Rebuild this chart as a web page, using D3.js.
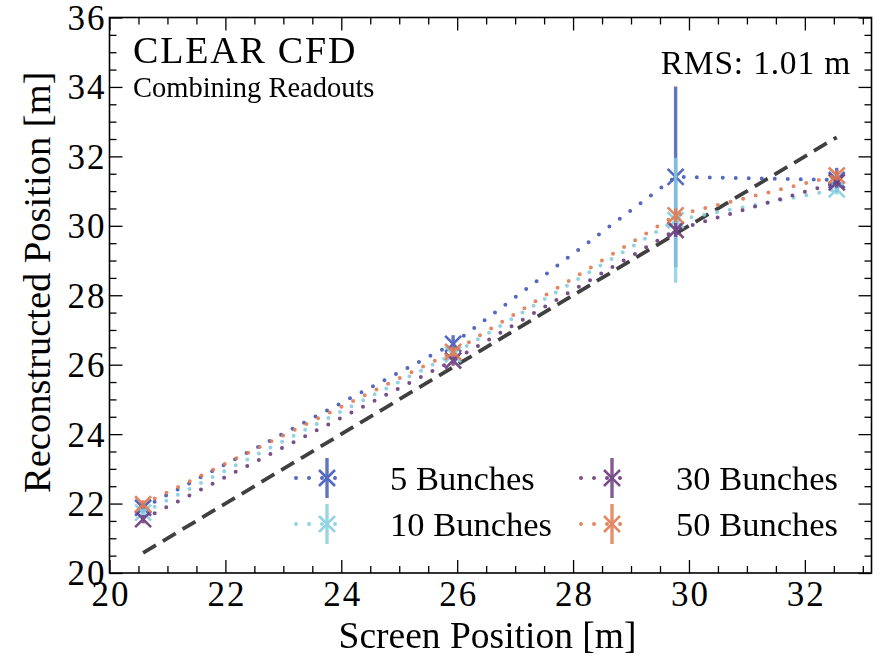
<!DOCTYPE html>
<html><head><meta charset="utf-8">
<script src="https://cdn.jsdelivr.net/npm/d3@7"></script>
<style>
html,body{margin:0;padding:0;background:#fff;}
text{font-family:"Liberation Serif","DejaVu Serif",serif;fill:#000;}
</style></head>
<body>
<svg id="chart" width="882" height="658"></svg>
<script>
// ---------- data ----------
const screenPos = [20.58, 25.93, 29.77, 32.55];
const seriesNames = ["5 Bunches", "10 Bunches", "30 Bunches", "50 Bunches"];
const seriesColors = ["#3f58b8", "#86cfdf", "#6b3a7d", "#e07a52"];
const bunches5  = [21.88, 26.60, 31.41, 31.32];
const err5      = [0.15, 0.25, 2.60, 0.35];
const bunches10 = [21.74, 26.30, 30.16, 31.05];
const err10     = [0.12, 0.15, 1.80, 0.15];
const bunches30 = [21.55, 26.12, 29.88, 31.25];
const err30     = [0.12, 0.15, 0.20, 0.15];
const bunches50 = [21.98, 26.37, 30.30, 31.45];
const err50     = [0.12, 0.15, 0.20, 0.15];
const idealLine = [20.58, 32.55];
const xTicks = [20, 22, 24, 26, 28, 30, 32];
const yTicks = [20, 22, 24, 26, 28, 30, 32, 34, 36];
const titleText = "CLEAR CFD";
const subtitleText = "Combining Readouts";
const rmsText = "RMS: 1.01 m";

const seriesVals = [bunches5, bunches10, bunches30, bunches50];
const seriesErrs = [err5, err10, err30, err50];

// ---------- layout ----------
const svg = d3.select("#chart");
const L = 109.5, R = 871.5, T = 17.5, B = 573;
const x = d3.scaleLinear().domain([20, 33.15]).range([L, R]);
const y = d3.scaleLinear().domain([20, 36]).range([B, T]);

const minorX = d3.range(20, 33.01, 0.5).filter(v => v % 2 !== 0);
const minorY = d3.range(20, 36.01, 0.5).filter(v => v % 2 !== 0);

// ideal dashed line
svg.append("line")
  .attr("x1", x(idealLine[0])).attr("y1", y(idealLine[0]))
  .attr("x2", x(idealLine[1])).attr("y2", y(idealLine[1]))
  .attr("stroke", "#404040").attr("stroke-width", 3.8)
  .attr("stroke-dasharray", "15,8");

const lineGen = d3.line().x(d => x(d[0])).y(d => y(d[1]));

function drawMarker(g, cx, cy, color, s) {
  g.append("path")
    .attr("d", `M${cx - s},${cy - s}L${cx + s},${cy + s}M${cx - s},${cy + s}L${cx + s},${cy - s}`)
    .attr("stroke", color).attr("stroke-width", 2.6).attr("fill", "none");
}

seriesVals.forEach((vals, si) => {
  const c = seriesColors[si];
  const g = svg.append("g").attr("opacity", 0.9);
  const pts = screenPos.map((p, i) => [p, vals[i]]);
  g.append("path").datum(pts).attr("d", lineGen)
    .attr("fill", "none").attr("stroke", c).attr("stroke-width", 4)
    .attr("stroke-linecap", "round").attr("stroke-dasharray", "0,13");
  pts.forEach((p, i) => {
    const e = seriesErrs[si][i];
    g.append("line")
      .attr("x1", x(p[0])).attr("x2", x(p[0]))
      .attr("y1", y(p[1] - e)).attr("y2", y(p[1] + e))
      .attr("stroke", c).attr("stroke-width", 3.4).attr("opacity", 0.92);
    drawMarker(g, x(p[0]), y(p[1]), c, 8);
  });
});

// ---------- axes ----------
const fontTick = 35;
const axB = svg.append("g").attr("transform", `translate(0,${B})`)
  .call(d3.axisBottom(x).tickValues(xTicks).tickSizeInner(-13).tickSizeOuter(0).tickPadding(5).tickFormat(d3.format("d")));
const axL = svg.append("g").attr("transform", `translate(${L},0)`)
  .call(d3.axisLeft(y).tickValues(yTicks).tickSizeInner(-13).tickSizeOuter(0).tickPadding(5).tickFormat(d3.format("d")));
const axT = svg.append("g").attr("transform", `translate(0,${T})`)
  .call(d3.axisTop(x).tickValues(xTicks).tickSizeInner(-13).tickSizeOuter(0).tickFormat(""));
const axR = svg.append("g").attr("transform", `translate(${R},0)`)
  .call(d3.axisRight(y).tickValues(yTicks).tickSizeInner(-13).tickSizeOuter(0).tickFormat(""));
// minor
svg.append("g").attr("transform", `translate(0,${B})`)
  .call(d3.axisBottom(x).tickValues(minorX).tickSizeInner(-7).tickSizeOuter(0).tickFormat(""));
svg.append("g").attr("transform", `translate(0,${T})`)
  .call(d3.axisTop(x).tickValues(minorX).tickSizeInner(-7).tickSizeOuter(0).tickFormat(""));
svg.append("g").attr("transform", `translate(${L},0)`)
  .call(d3.axisLeft(y).tickValues(minorY).tickSizeInner(-7).tickSizeOuter(0).tickFormat(""));
svg.append("g").attr("transform", `translate(${R},0)`)
  .call(d3.axisRight(y).tickValues(minorY).tickSizeInner(-7).tickSizeOuter(0).tickFormat(""));

svg.selectAll(".domain").remove();
svg.selectAll(".tick line").attr("stroke", "#000").attr("stroke-width", 1.3);
svg.selectAll(".tick text").attr("font-family", "Liberation Serif").attr("font-size", fontTick).attr("fill", "#000");
axB.selectAll(".tick text").attr("dy", "0.8em").attr("letter-spacing", 2).attr("dx", 1);
axL.selectAll(".tick text").attr("dy", "0.34em").attr("letter-spacing", 2).attr("dx", 2);

svg.append("rect").attr("x", L).attr("y", T).attr("width", R - L).attr("height", B - T)
  .attr("fill", "none").attr("stroke", "#000").attr("stroke-width", 1.6);

// axis labels
svg.append("text").attr("x", (L + R) / 2 - 3).attr("y", 648).attr("text-anchor", "middle")
  .attr("font-size", 37.5).text("Screen Position [m]");
svg.append("text").attr("transform", `translate(50,${(T + B) / 2 - 13}) rotate(-90)`)
  .attr("text-anchor", "middle").attr("font-size", 38.5).text("Reconstructed Position [m]");

// annotations
svg.append("text").attr("x", 133).attr("y", 63).attr("font-size", 38).attr("letter-spacing", 1.8).text(titleText);
svg.append("text").attr("x", 133).attr("y", 97).attr("font-size", 28.5).text(subtitleText);
svg.append("text").attr("x", 851).attr("y", 74).attr("text-anchor", "end").attr("font-size", 33.5).attr("letter-spacing", 0.8).text(rmsText);

// legend
const legCols = [[293, 390], [578, 676]];
const legRows = [478, 524];
seriesNames.forEach((name, i) => {
  const col = Math.floor(i / 2), row = i % 2;
  const [hx, tx] = legCols[col];
  const cy = legRows[row];
  const c = seriesColors[i];
  const g = svg.append("g").attr("opacity", 0.9);
  g.append("line").attr("x1", hx + 3).attr("x2", hx + 55).attr("y1", cy).attr("y2", cy)
    .attr("stroke", c).attr("stroke-width", 4).attr("stroke-linecap", "round").attr("stroke-dasharray", "0,13");
  g.append("line").attr("x1", hx + 34).attr("x2", hx + 34).attr("y1", cy - 20).attr("y2", cy + 20)
    .attr("stroke", c).attr("stroke-width", 3.4).attr("opacity", 0.92);
  drawMarker(g, hx + 34, cy, c, 8);
  svg.append("text").attr("x", tx).attr("y", cy).attr("dy", "0.34em").attr("font-size", 34.5).text(name);
});
</script>
</body></html>
